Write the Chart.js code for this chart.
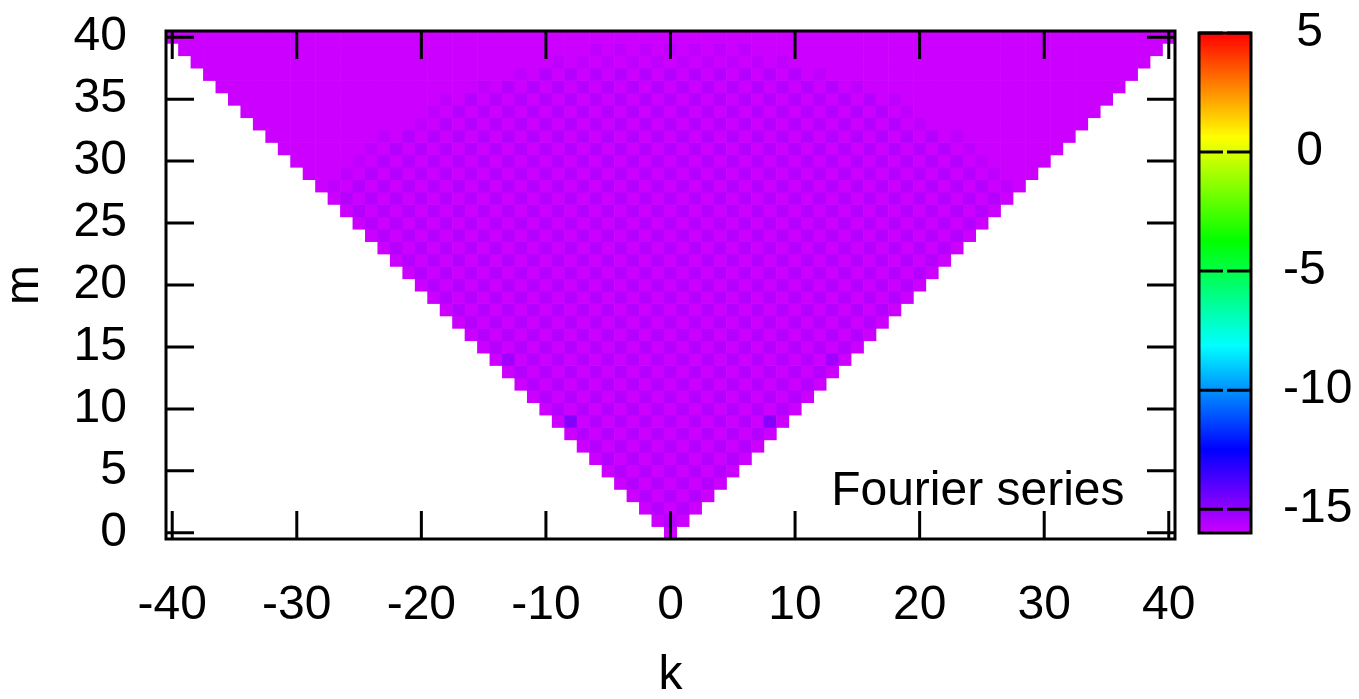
<!DOCTYPE html>
<html>
<head>
<meta charset="utf-8">
<title>Fourier series</title>
<script src="https://cdn.jsdelivr.net/npm/chart.js@4.4.0/dist/chart.umd.min.js"></script>
<style>
  html, body { margin: 0; padding: 0; background: #fff; }
  #wrap { width: 1359px; height: 699px; }
</style>
</head>
<body>
<div id="wrap"><canvas id="heat"></canvas></div>
<script>
// one string per row m, one character per cell k = -m .. m
const levelCodes = ['0', '1', '2', '3', '4'];
const levelValues = [-16.0, -15.8, -15.6, -15.25, -14.8];

const rows = [
    '0',
    '020',
    '02020',
    '0202020',
    '020202020',
    '02020202020',
    '0202020202020',
    '020202020202020',
    '02020202020202020',
    '0402020202020202040',
    '020202020202020202020',
    '02020202020202020202020',
    '0202020202020202020202020',
    '020202020202020202020202020',
    '03020202020202020202020202030',
    '0202020202020202020202020202020',
    '020202020202020202020202020202020',
    '02020202020202020202020202020202020',
    '0202020202020202020202020202020202020',
    '020202020202020202020202020202020202020',
    '02020202020202020202020202020202020202020',
    '0202020202020202020202020202020202020202020',
    '020202020202020202020202020202020202020202020',
    '02020202020202020202020202020202020202020202020',
    '0202020202020202020202020202020202020202020202020',
    '020202020202020202020202020202020202020202020202020',
    '02020202020202020202020202020202020202020202020202020',
    '0202020202020202020202020202020202020202020202020202020',
    '01' + '02020202020202020202020202020202020202020202020202020' + '10',
    '0001' + '020202020202020202020202020202020202020202020202020' + '1000',
    '000001' + '0202020202020202020202020202020202020202020202020' + '100000',
    '00000001' + '02020202020202020202020202020202020202020202020' + '10000000',
    '0000000001' + '020202020202020202020202020202020202020202020' + '1000000000',
    '000000000000' + '01' + '020202020202020202020202020202020202020' + '10' + '000000000000',
    '00000000000000' + '01' + '0202020202020202020202020202020202020' + '10' + '00000000000000',
    '00000000000000000' + '1' + '02020202020202020202020202020202020' + '1' + '00000000000000000',
    '00000000000000000000' + '01' + '02020202020202020202020202020' + '10' + '00000000000000000000',
    '000000000000000000000000' + '01' + '02020202020202020202020' + '10' + '000000000000000000000000',
    '0000000000000000000000000000' + '010101010101010101010' + '0000000000000000000000000000',
    '000000000000000000000000000000000' + '1010101010101' + '000000000000000000000000000000000',
    '000000000000000000000000000000000000000000000000000000000000000000000000000000000'
];

const xTicks = [-40, -30, -20, -10, 0, 10, 20, 30, 40];
const yTicks = [0, 5, 10, 15, 20, 25, 30, 35, 40];
const cbTicks = [-15, -10, -5, 0, 5];
const cbMin = -16;
const cbMax = 5;
const xLabel = 'k';
const yLabel = 'm';
const seriesLabel = 'Fourier series';

const FONT = '"Liberation Sans", Arial, Helvetica, sans-serif';
Chart.defaults.font.family = FONT;
Chart.defaults.color = '#000';

// hue runs from red (top of the colour box) down to purple (bottom)
function paletteColor(v) {
    const t = Math.min(1, Math.max(0, (cbMax - v) / (cbMax - cbMin)));
    const h = t * 288 / 60;
    const i = Math.min(4, Math.floor(h));
    const f = h - i;
    let r, g, b;
    if (i === 0) { r = 1; g = f; b = 0; }
    else if (i === 1) { r = 1 - f; g = 1; b = 0; }
    else if (i === 2) { r = 0; g = 1; b = f; }
    else if (i === 3) { r = 0; g = 1 - f; b = 1; }
    else { r = f; g = 0; b = 1; }
    return 'rgb(' + Math.round(r * 255) + ',' + Math.round(g * 255) + ',' + Math.round(b * 255) + ')';
}

const cells = [];
rows.forEach(function (row, m) {
    if (row.length !== 2 * m + 1) {
        throw new Error('row ' + m + ' has ' + row.length + ' cells, expected ' + (2 * m + 1));
    }
    for (let i = 0; i < row.length; i++) {
        cells.push({ x: i - m, y: m, v: levelValues[levelCodes.indexOf(row[i])] });
    }
});

// frame, inward ticks, key label and colour box, in the gnuplot manner
const gnuplotFrame = {
    id: 'gnuplotFrame',
    afterDatasetsDraw(chart) {
        const ctx = chart.ctx;
        const a = chart.chartArea;
        const x = chart.scales.x;
        const y = chart.scales.y;
        const tick = 28;

        ctx.save();
        ctx.strokeStyle = '#000';
        ctx.lineWidth = 3;
        ctx.beginPath();
        xTicks.forEach(function (v) {
            const px = x.getPixelForValue(v);
            ctx.moveTo(px, a.bottom); ctx.lineTo(px, a.bottom - tick);
            ctx.moveTo(px, a.top); ctx.lineTo(px, a.top + tick);
        });
        yTicks.forEach(function (v) {
            const py = y.getPixelForValue(v);
            ctx.moveTo(a.left, py); ctx.lineTo(a.left + tick, py);
            ctx.moveTo(a.right, py); ctx.lineTo(a.right - tick, py);
        });
        ctx.stroke();
        ctx.strokeRect(a.left, a.top, a.right - a.left, a.bottom - a.top);

        ctx.fillStyle = '#000';
        ctx.font = '48px ' + FONT;
        ctx.textAlign = 'right';
        ctx.textBaseline = 'alphabetic';
        ctx.fillText(seriesLabel, a.left + 0.95 * (a.right - a.left), a.bottom - 34);

        // colour box
        const cbLeft = 1199, cbRight = 1251, cbTop = 33, cbBottom = 533;
        const cy = function (v) { return cbTop + (cbMax - v) / (cbMax - cbMin) * (cbBottom - cbTop); };
        const grad = ctx.createLinearGradient(0, cbTop, 0, cbBottom);
        grad.addColorStop(0, '#ff0000');
        grad.addColorStop(60 / 288, '#ffff00');
        grad.addColorStop(120 / 288, '#00ff00');
        grad.addColorStop(180 / 288, '#00ffff');
        grad.addColorStop(240 / 288, '#0000ff');
        grad.addColorStop(1, '#cc00ff');
        ctx.fillStyle = grad;
        ctx.fillRect(cbLeft, cbTop, cbRight - cbLeft, cbBottom - cbTop);

        ctx.beginPath();
        cbTicks.forEach(function (v) {
            const py = cy(v);
            ctx.moveTo(cbLeft, py); ctx.lineTo(cbLeft + 24, py);
            ctx.moveTo(cbRight, py); ctx.lineTo(cbRight - 24, py);
        });
        ctx.stroke();
        ctx.strokeRect(cbLeft, cbTop, cbRight - cbLeft, cbBottom - cbTop);

        ctx.fillStyle = '#000';
        ctx.textAlign = 'left';
        ctx.textBaseline = 'middle';
        cbTicks.forEach(function (v) {
            ctx.fillText((v >= 0 ? ' ' : '') + v, 1283, cy(v));
        });
        ctx.restore();
    }
};

const cellRadius = function (c) {
    const s = c.chart.scales;
    const w = Math.abs(s.x.getPixelForValue(1) - s.x.getPixelForValue(0));
    const h = Math.abs(s.y.getPixelForValue(0) - s.y.getPixelForValue(1));
    return (Math.max(w, h) + 0.6) / Math.SQRT2;
};

new Chart(document.getElementById('heat'), {
    type: 'scatter',
    data: {
        datasets: [{
            label: seriesLabel,
            data: cells,
            pointStyle: 'rect',
            pointRadius: cellRadius,
            pointBorderWidth: 0,
            pointBackgroundColor: function (c) {
                return c.raw ? paletteColor(c.raw.v) : paletteColor(cbMin);
            },
            clip: 0
        }]
    },
    options: {
        responsive: true,
        maintainAspectRatio: false,
        animation: false,
        events: [],
        layout: { padding: { left: 0, top: 31, right: 184, bottom: 0 } },
        plugins: {
            legend: { display: false },
            tooltip: { enabled: false }
        },
        scales: {
            x: {
                type: 'linear',
                min: -40.5,
                max: 40.5,
                bounds: 'data',
                grid: { display: false, drawTicks: false },
                border: { display: false },
                ticks: {
                    font: { size: 48 },
                    padding: 38,
                    maxRotation: 0,
                    autoSkip: false,
                    includeBounds: false
                },
                afterBuildTicks: function (s) { s.ticks = xTicks.map(v => ({ value: v })); },
                afterFit: function (s) {
                    s.height = 160;
                    s.paddingLeft = 0;
                    s.paddingRight = 0;
                },
                title: {
                    display: true,
                    text: xLabel,
                    font: { size: 48, lineHeight: 1 },
                    padding: { top: 0, bottom: -1 }
                }
            },
            y: {
                type: 'linear',
                min: -0.5,
                max: 40.5,
                bounds: 'data',
                grid: { display: false, drawTicks: false },
                border: { display: false },
                ticks: {
                    font: { size: 48 },
                    padding: 39,
                    autoSkip: false,
                    includeBounds: false
                },
                afterBuildTicks: function (s) { s.ticks = yTicks.map(v => ({ value: v })); },
                afterFit: function (s) {
                    s.width = 166;
                    s.paddingTop = 0;
                    s.paddingBottom = 0;
                },
                title: {
                    display: true,
                    text: yLabel,
                    font: { size: 48, lineHeight: 1 },
                    padding: { top: 1, bottom: 0 }
                }
            }
        }
    },
    plugins: [gnuplotFrame]
});
</script>
</body>
</html>
